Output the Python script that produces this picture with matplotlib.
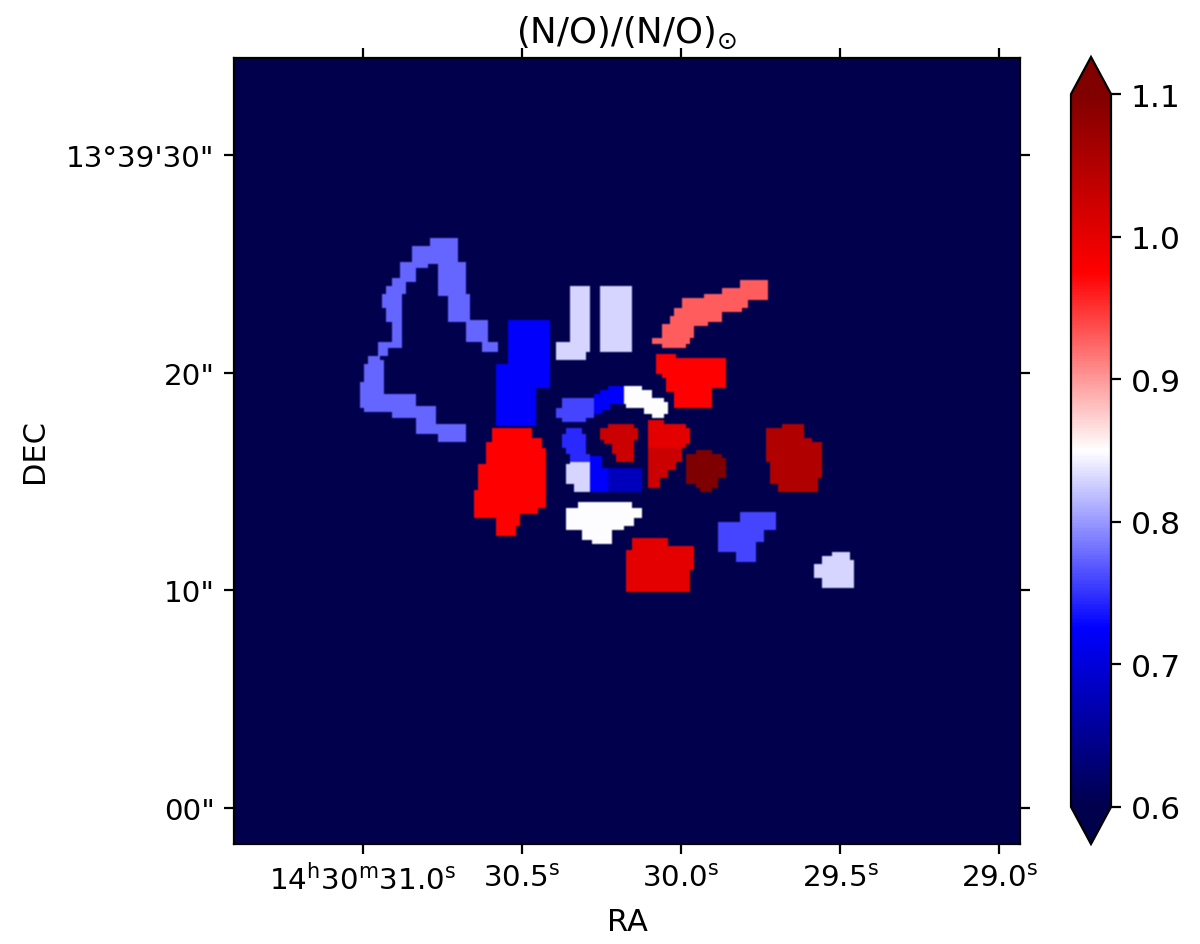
import matplotlib
matplotlib.use("Agg")
import matplotlib.pyplot as plt
import numpy as np
from matplotlib.path import Path

# (N/O) ratio of each region, and its outline on the map (picture pixels)
loop_value = 0.775
loop_outline = [(430,237),(457,237),(457,262),(466,262),(466,293),(470,293),(470,319),(488,319),(488,341),(497,341),(497,351),(483,351),(483,342),(466,342),(466,321),(448,321),(448,295),(439,295),(439,264),(428,264),(428,268),(415,268),(415,281),(405,281),(405,294),(401,294),(401,347),(387,347),(387,355),(379,355),(379,359),(383,359),(383,393),(415,393),(415,406),(436,406),(436,423),(466,423),(466,442),(439,442),(439,434),(417,434),(417,417),(392,417),(392,412),(364,412),(364,408),(360,408),(360,381),(364,381),(364,363),(369,363),(369,355),(379,355),(379,341),(392,341),(392,321),(387,321),(387,308),(383,308),(383,294),(387,294),(387,285),(392,285),(392,277),(400,277),(400,262),(413,262),(413,245),(430,245)]

column_value = 0.725
column_outline = [(509,319),(549,319),(549,387),(536,387),(536,426),(496,426),(496,363),(509,363)]

big_red_value = 0.975
big_red_outline = [(492,427),(532,427),(532,437),(541,437),(541,447),(546,447),(546,508),(537,508),(537,513),(519,513),(519,526),(515,526),(515,535),(496,535),(496,517),(474,517),(474,489),(478,489),(478,463),(487,463),(487,441),(492,441)]

bar_left_value = 0.83
bar_left_outline = [(571,285),(589,285),(589,351),(585,351),(585,359),(557,359),(557,341),(571,341)]

bar_right_value = 0.83
bar_right_outline = [(600,285),(632,285),(632,351),(600,351)]

stripe_value = 0.93
stripe_outline = [(740,280),(768,280),(768,299),(747,299),(747,308),(742,308),(742,312),(721,312),(721,321),(708,321),(708,325),(694,325),(694,338),(689,338),(689,343),(685,343),(685,347),(662,347),(662,343),(653,343),(653,337),(662,337),(662,324),(670,324),(670,315),(674,315),(674,307),(683,307),(683,298),(704,298),(704,293),(723,293),(723,288),(740,288)]

tee_value = 0.975
tee_outline = [(657,354),(676,354),(676,358),(725,358),(725,387),(712,387),(712,408),(674,408),(674,391),(666,391),(666,378),(662,378),(662,374),(657,374)]

arc_a_value = 0.76
arc_a_outline = [(562,398),(595,398),(595,413),(593,413),(593,417),(585,417),(585,421),(562,421),(562,417),(557,417),(557,407),(562,407)]

arc_b_value = 0.725
arc_b_outline = [(608,386),(625,386),(625,404),(610,404),(610,409),(602,409),(602,413),(595,413),(595,394),(600,394),(600,389),(608,389)]

arc_c_value = 0.85
arc_c_outline = [(625,386),(642,386),(642,389),(651,389),(651,398),(663,398),(663,402),(668,402),(668,413),(663,413),(663,417),(653,417),(653,413),(645,413),(645,408),(627,408),(625,404)]

cup_value = 1.025
cup_outline = [(608,423),(633,423),(633,428),(638,428),(638,439),(633,439),(633,462),(617,462),(617,453),(613,453),(613,444),(604,444),(604,440),(600,440),(600,428),(608,428)]

heart_top_value = 1.0
heart_top_outline = [(649,419),(663,419),(663,423),(685,423),(685,427),(689,427),(689,443),(685,443),(685,448),(649,448)]

heart_low_value = 1.025
heart_low_outline = [(649,448),(681,448),(681,461),(676,461),(676,470),(668,470),(668,478),(659,478),(659,487),(649,487)]

maroon_value = 1.1
maroon_outline = [(696,449),(712,449),(712,453),(721,453),(721,457),(725,457),(725,478),(717,478),(717,487),(712,487),(712,492),(700,492),(700,487),(696,487),(696,483),(687,483),(687,453),(696,453)]

east_value = 1.05
east_outline = [(783,424),(803,424),(803,437),(812,437),(812,441),(821,441),(821,478),(817,478),(817,491),(779,491),(779,483),(770,483),(770,461),(766,461),(766,428),(783,428)]

blob_value = 0.745
blob_outline = [(566,428),(581,428),(581,433),(585,433),(585,453),(589,453),(589,462),(570,462),(570,453),(566,453),(566,448),(562,448),(562,433),(566,433)]

pale_value = 0.83
pale_outline = [(570,462),(590,462),(590,491),(574,491),(574,483),(566,483),(566,464),(570,464)]

square_value = 0.725
square_outline = [(590,455),(602,455),(602,467),(608,467),(608,491),(590,491)]

navy_value = 0.68
navy_outline = [(608,468),(641,468),(641,491),(608,491)]

white_value = 0.85
white_outline = [(579,502),(632,502),(632,507),(642,507),(642,517),(633,517),(633,525),(623,525),(623,529),(611,529),(611,544),(592,544),(592,540),(583,540),(583,529),(566,529),(566,507),(579,507)]

south_value = 1.0
south_outline = [(632,537),(668,537),(668,546),(694,546),(694,570),(689,570),(689,592),(627,592),(627,550),(632,550)]

step_value = 0.76
step_outline = [(740,512),(776,512),(776,529),(763,529),(763,542),(755,542),(755,561),(736,561),(736,552),(719,552),(719,521),(740,521)]

corner_value = 0.83
corner_outline = [(832,551),(850,551),(850,559),(854,559),(854,587),(823,587),(823,578),(814,578),(814,564),(823,564),(823,555),(832,555)]

region_values = [loop_value, column_value, big_red_value, bar_left_value, bar_right_value, stripe_value,
                 tee_value, arc_a_value, arc_b_value, arc_c_value, cup_value, heart_top_value,
                 heart_low_value, maroon_value, east_value, blob_value, pale_value, square_value,
                 navy_value, white_value, south_value, step_value, corner_value]
region_outlines = [loop_outline, column_outline, big_red_outline, bar_left_outline, bar_right_outline, stripe_outline,
                   tee_outline, arc_a_outline, arc_b_outline, arc_c_outline, cup_outline, heart_top_outline,
                   heart_low_outline, maroon_outline, east_outline, blob_outline, pale_outline, square_outline,
                   navy_outline, white_outline, south_outline, step_outline, corner_outline]

ra_ticks = [31.0, 30.5, 30.0, 29.5, 29.0]
ra_labels = [r"14$^{\mathrm{h}}$30$^{\mathrm{m}}$31.0$^{\mathrm{s}}$", r"30.5$^{\mathrm{s}}$",
             r"30.0$^{\mathrm{s}}$", r"29.5$^{\mathrm{s}}$", r"29.0$^{\mathrm{s}}$"]
dec_ticks = [30, 20, 10, 0]
dec_labels = ["13°39'30\"", '20"', '10"', '00"']
cbar_ticks = [0.6, 0.7, 0.8, 0.9, 1.0, 1.1]

# map limits, the sky range the axes cover
ra_left, ra_right = 31.4057, 28.934
dec_bottom, dec_top = -1.606, 34.45

# rasterise the regions on the map grid
cell = 2
n_cells = 393
x0, y0 = 234, 58
cx, cy = np.meshgrid(x0 + (np.arange(n_cells) + 0.5) * cell, y0 + (np.arange(n_cells) + 0.5) * cell)
centres = np.column_stack([cx.ravel(), cy.ravel()])
ratio = np.zeros((n_cells, n_cells))
for value, outline in zip(region_values, region_outlines):
    inside = Path(outline + [outline[0]]).contains_points(centres).reshape(ratio.shape)
    ratio[inside] = value

plt.rcParams["font.size"] = 10.6

fig = plt.figure(figsize=(6, 4.725), dpi=200)
ax = fig.add_axes([234 / 1200, 100.5 / 945, 786 / 1200, 786 / 945])
im = ax.imshow(ratio, cmap="seismic", vmin=0.6, vmax=1.1, origin="upper", aspect="auto",
               interpolation="bilinear", extent=[ra_left, ra_right, dec_bottom, dec_top])

ax.set_xticks(ra_ticks)
ax.set_xticklabels(ra_labels)
ax.set_yticks(dec_ticks)
ax.set_yticklabels(dec_labels)
ax.tick_params(top=True, right=True)
ax.set_xlabel("RA", fontsize=11, labelpad=4.5)
ax.set_ylabel("DEC", fontsize=11, labelpad=6)
ax.set_title(r"(N/O)/(N/O)$_{\odot}$", fontsize=12.8, pad=5.5)

# the colorbar axes holds the bar and both extend triangles
cax = fig.add_axes([1071 / 1200, (945 - 845) / 945, 40 / 1200, 787 / 945])
cbar = fig.colorbar(im, cax=cax, extend="both", extendfrac=0.052, ticks=cbar_ticks)
cbar.ax.set_yticklabels(["0.6", "0.7", "0.8", "0.9", "1.0", "1.1"], fontsize=11.3)

fig.savefig("out.png", dpi=200)
